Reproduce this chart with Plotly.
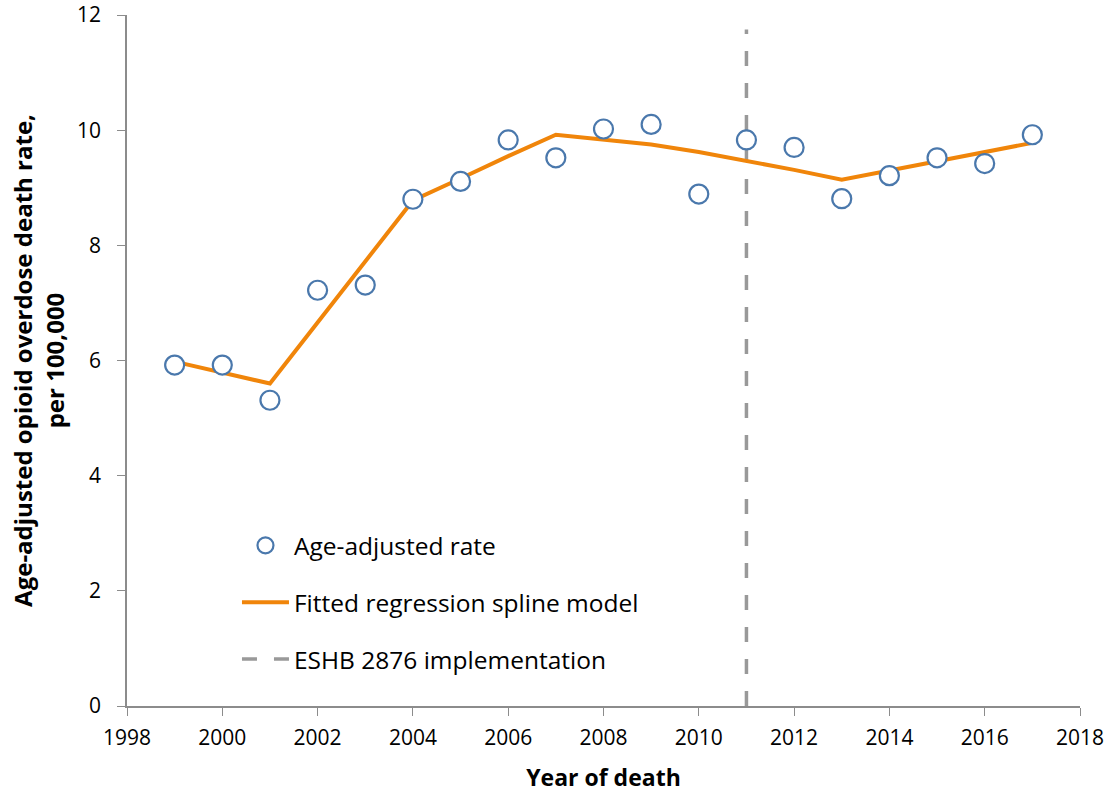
import plotly.graph_objects as go

years = [1999, 2000, 2001, 2002, 2003, 2004, 2005, 2006, 2007, 2008,
         2009, 2010, 2011, 2012, 2013, 2014, 2015, 2016, 2017]
rate = [5.92, 5.92, 5.31, 7.22, 7.31, 8.80, 9.11, 9.83, 9.52, 10.02,
        10.10, 8.89, 9.83, 9.70, 8.81, 9.21, 9.52, 9.42, 9.92]
fitted = [5.98, 5.79, 5.60, 6.66, 7.72, 8.78, 9.16, 9.55, 9.92, 9.84,
          9.75, 9.62, 9.47, 9.31, 9.14, 9.30, 9.45, 9.61, 9.78]
policy_year = [2011, 2011]
policy_span = [0, 11.75]
x_ticks = [1998, 2000, 2002, 2004, 2006, 2008, 2010, 2012, 2014, 2016, 2018]
y_ticks = [0, 2, 4, 6, 8, 10, 12]

FONT = "Open Sans"

fig = go.Figure()
fig.add_trace(go.Scatter(
    x=policy_year, y=policy_span, mode="lines",
    name="ESHB 2876 implementation",
    line=dict(color="#999999", width=3.5, dash="15px,17px"),
    legendgroup="c", legendrank=3,
))
fig.add_trace(go.Scatter(
    x=years, y=fitted, mode="lines",
    name="Fitted regression spline model",
    line=dict(color="#F0850A", width=4),
    legendgroup="b", legendrank=2,
))
fig.add_trace(go.Scatter(
    x=years, y=rate, mode="markers",
    name="Age-adjusted rate",
    marker=dict(symbol="circle", size=19, color="white",
                line=dict(color="#4A78AC", width=2.2)),
    legendgroup="a", legendrank=1,
))

fig.update_layout(
    width=1111, height=793,
    margin=dict(l=127, r=31, t=15, b=87, autoexpand=False),
    plot_bgcolor="white", paper_bgcolor="white",
    font=dict(family=FONT, color="black"),
    showlegend=True,
    legend=dict(
        x=0.1154, y=0.265, xanchor="left", yanchor="top",
        font=dict(size=24.5, family=FONT, color="black"),
        bgcolor="rgba(0,0,0,0)",
        tracegroupgap=22, itemwidth=47,
    ),
    xaxis=dict(
        range=[1998, 2018], tickvals=x_ticks,
        ticks="outside", ticklen=8, tickcolor="#8C8C8C",
        showline=True, linecolor="#8C8C8C", linewidth=1.5,
        showgrid=False, zeroline=False, automargin=False,
        ticklabelstandoff=4,
        tickfont=dict(size=21, family=FONT),
        title=dict(text="<b>Year of death</b>", font=dict(size=23, family=FONT), standoff=30),
    ),
    yaxis=dict(
        range=[0, 12], tickvals=y_ticks,
        ticks="outside", ticklen=8, tickcolor="#8C8C8C",
        showline=True, linecolor="#8C8C8C", linewidth=1.5,
        showgrid=False, zeroline=False, automargin=False,
        ticklabelstandoff=12,
        tickfont=dict(size=21, family=FONT),
        title=dict(text="<b>Age-adjusted opioid overdose death rate,<br>per 100,000</b>",
                   font=dict(size=24, family=FONT), standoff=6),
    ),
)

# remove the default 8px body margin so the figure fills the window exactly
fig.write_html("out.html", config={"displayModeBar": False},
               post_script="document.body.style.margin='0';")
